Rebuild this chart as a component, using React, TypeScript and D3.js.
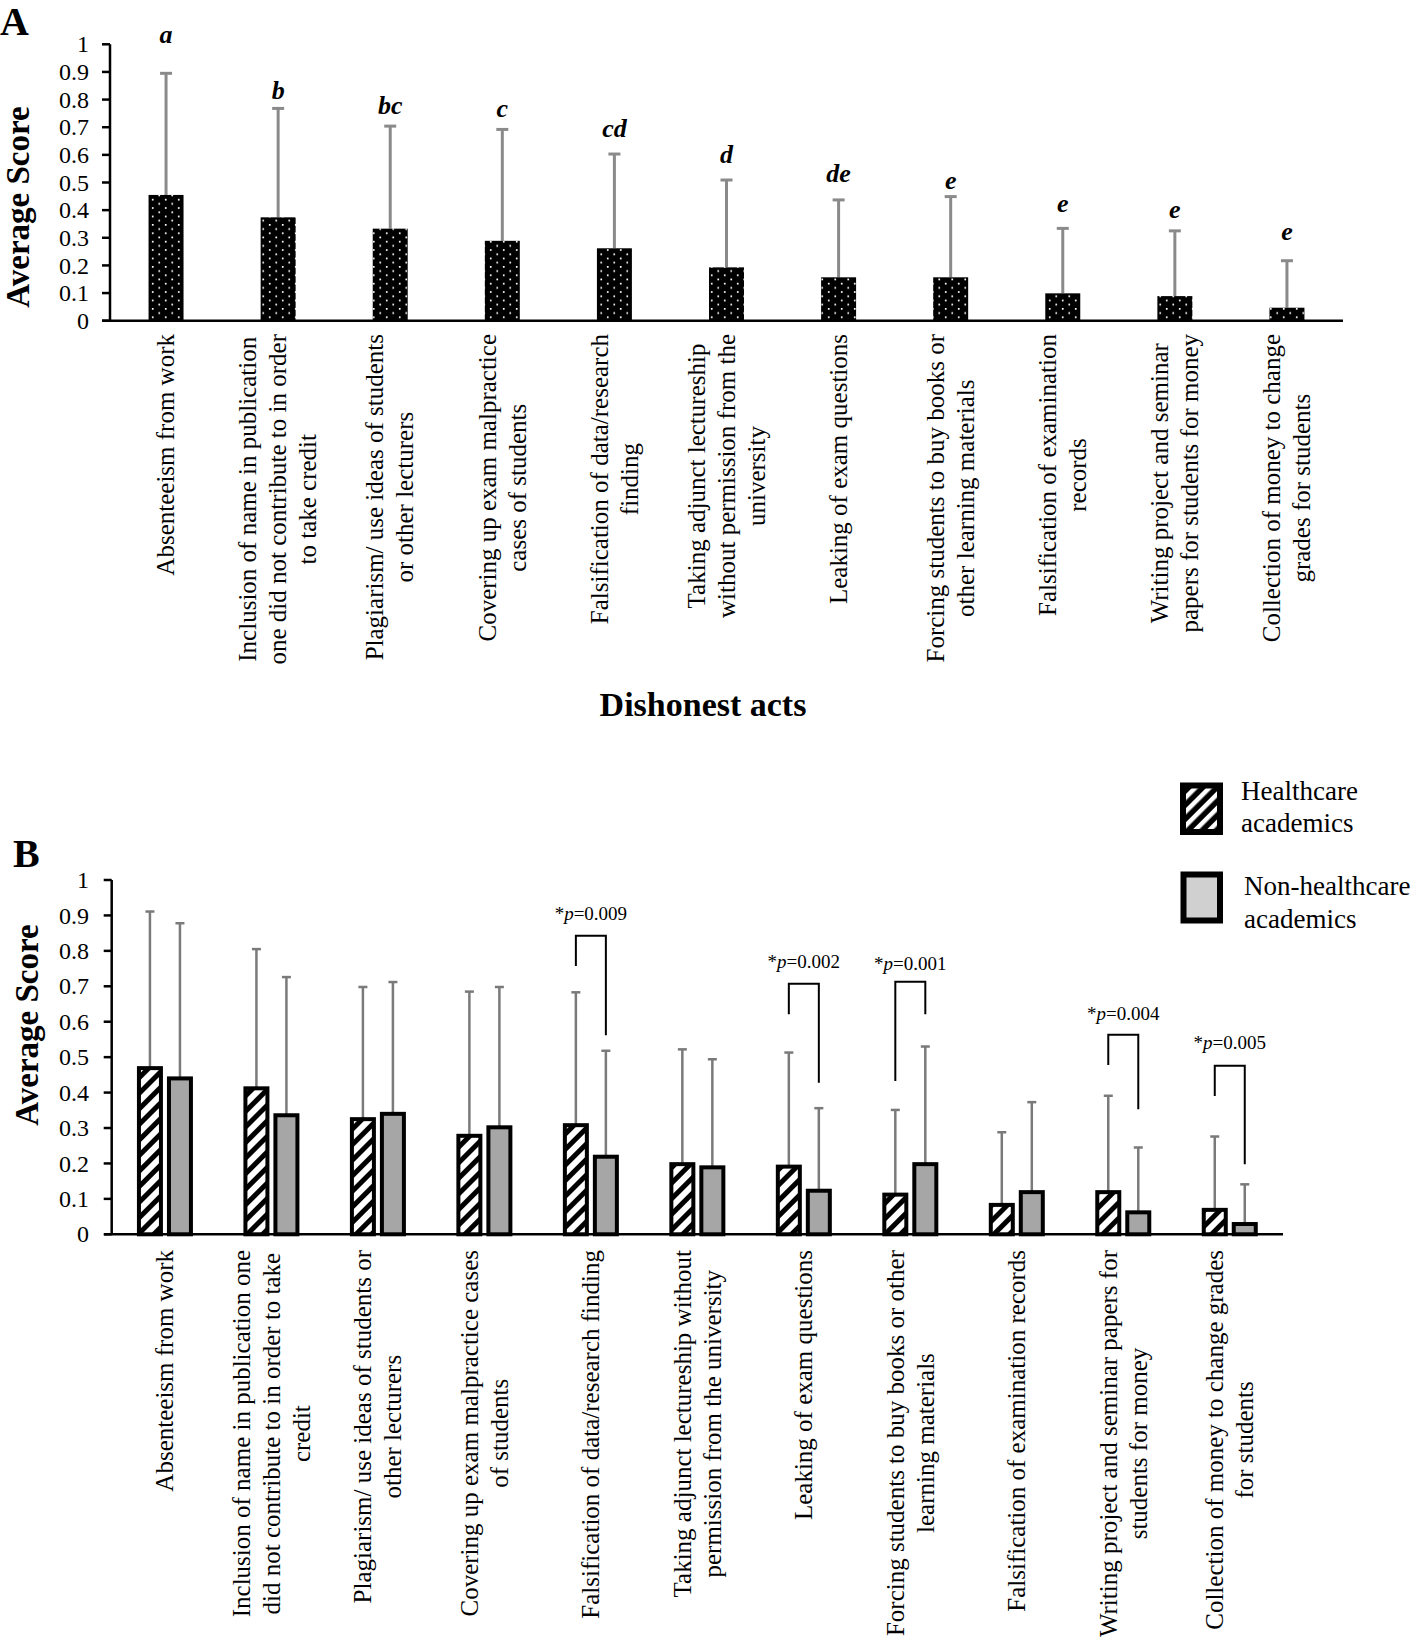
import React, { useEffect, useRef } from 'react';
import * as d3 from 'd3';

const W = 1417;
const H = 1646;
const FONT = '"Liberation Serif", "Times New Roman", Times, serif';

// ---------- Panel A data ----------
const labelsA: string[][] = [
  ['Absenteeism from work'],
  ['Inclusion of name in publication', 'one did not contribute to in order', 'to take credit'],
  ['Plagiarism/ use ideas of students', 'or other lecturers'],
  ['Covering up exam malpractice', 'cases of students'],
  ['Falsification of data/research', 'finding'],
  ['Taking adjunct lectureship', 'without permission from the', 'university'],
  ['Leaking of exam questions'],
  ['Forcing students to buy books or', 'other learning materials'],
  ['Falsification of examination', 'records'],
  ['Writing project and seminar', 'papers for students for money'],
  ['Collection of money to change', 'grades for students'],
];
const meanA = [0.455, 0.374, 0.333, 0.289, 0.262, 0.193, 0.157, 0.157, 0.099, 0.089, 0.047];
const errTopA = [0.895, 0.768, 0.704, 0.692, 0.603, 0.509, 0.437, 0.449, 0.334, 0.325, 0.217];
const lettersA = ['a', 'b', 'bc', 'c', 'cd', 'd', 'de', 'e', 'e', 'e', 'e'];
const letterLevelA = [1.005, 0.802, 0.748, 0.738, 0.666, 0.569, 0.503, 0.475, 0.394, 0.37, 0.292];

// ---------- Panel B data ----------
const labelsB: string[][] = [
  ['Absenteeism from work'],
  ['Inclusion of name in publication one', 'did not contribute to in order to take', 'credit'],
  ['Plagiarism/ use ideas of students or', 'other lecturers'],
  ['Covering up exam malpractice cases', 'of students'],
  ['Falsification of data/research finding'],
  ['Taking adjunct lectureship without', 'permission from the university'],
  ['Leaking of exam questions'],
  ['Forcing students to buy books or other', 'learning materials'],
  ['Falsification of examination records'],
  ['Writing project and seminar papers for', 'students for money'],
  ['Collection of money to change grades', 'for students'],
];
const seriesB = ['Healthcare academics', 'Non-healthcare academics'];
const healthMeanB = [0.469, 0.412, 0.325, 0.278, 0.308, 0.198, 0.191, 0.112, 0.083, 0.119, 0.069];
const healthErrB = [0.911, 0.805, 0.698, 0.685, 0.683, 0.522, 0.513, 0.351, 0.288, 0.391, 0.276];
const nonHealthMeanB = [0.44, 0.336, 0.34, 0.302, 0.219, 0.189, 0.123, 0.198, 0.119, 0.062, 0.029];
const nonHealthErrB = [0.878, 0.726, 0.712, 0.698, 0.518, 0.494, 0.356, 0.53, 0.373, 0.245, 0.141];

const sigIndexB = [4, 6, 7, 9, 10];
const sigPB = ['0.009', '0.002', '0.001', '0.004', '0.005'];
const sigTextLevelB = [0.888, 0.751, 0.746, 0.605, 0.522];
const sigTopLevelB = [0.843, 0.707, 0.713, 0.563, 0.476];
const sigLeftLevelB = [0.757, 0.621, 0.433, 0.478, 0.39];
const sigRightLevelB = [0.562, 0.428, 0.621, 0.353, 0.198];

const legendLinesB: string[][] = [
  ['Healthcare', 'academics'],
  ['Non-healthcare', 'academics'],
];

const tickLabels = ['0', '0.1', '0.2', '0.3', '0.4', '0.5', '0.6', '0.7', '0.8', '0.9', '1'];
const tickValues = tickLabels.map(Number);

export default function App() {
  const ref = useRef<SVGSVGElement | null>(null);

  useEffect(() => {
    const svg = d3.select(ref.current);
    svg.selectAll('*').remove();
    svg.attr('font-family', FONT);

    const defs = svg.append('defs');
    // dotted pattern for panel A
    const dots = defs.append('pattern').attr('id', 'dots').attr('patternUnits', 'userSpaceOnUse')
      .attr('width', 13).attr('height', 8.4);
    dots.append('rect').attr('width', 13).attr('height', 8.4).attr('fill', '#000');
    dots.append('rect').attr('x', 2.4).attr('y', 1.4).attr('width', 1.7).attr('height', 1.7).attr('fill', '#fff');
    dots.append('rect').attr('x', 8.9).attr('y', 5.6).attr('width', 1.7).attr('height', 1.7).attr('fill', '#fff');
    // hatch pattern for bars
    const hatch = defs.append('pattern').attr('id', 'hatch').attr('patternUnits', 'userSpaceOnUse')
      .attr('width', 11).attr('height', 11).attr('patternTransform', 'rotate(45)');
    hatch.append('rect').attr('width', 11).attr('height', 11).attr('fill', '#fff');
    hatch.append('rect').attr('width', 5).attr('height', 11).attr('fill', '#000');
    // hatch pattern for legend (white stripes on black)
    const hatchL = defs.append('pattern').attr('id', 'hatchL').attr('patternUnits', 'userSpaceOnUse')
      .attr('width', 10).attr('height', 10).attr('patternTransform', 'rotate(45)');
    hatchL.append('rect').attr('width', 10).attr('height', 10).attr('fill', '#000');
    hatchL.append('rect').attr('width', 4.5).attr('height', 10).attr('fill', '#fff');

    const drawCategoryLabels = (labels: string[][], centers: number[], top: number) => {
      const g = svg.append('g').attr('font-size', 25).attr('fill', '#000');
      const lh = 30;
      labels.forEach((lines, i) => {
        const texts = lines.map((ln) =>
          g.append('text').attr('text-anchor', 'middle').attr('dy', '0.33em').text(ln)
        );
        const maxLen = d3.max(texts, (t) => (t.node() as SVGTextElement).getComputedTextLength()) || 0;
        texts.forEach((t, j) => {
          const x = centers[i] + (j - (lines.length - 1) / 2) * lh;
          t.attr('transform', `translate(${x},${top + maxLen / 2}) rotate(-90)`);
        });
      });
    };

    const drawYAxis = (y: d3.ScaleLinear<number, number>, x0: number, tickLen: number, xLabelRight: number) => {
      const g = svg.append('g');
      g.append('line').attr('x1', x0).attr('x2', x0).attr('y1', y(1)).attr('y2', y(0))
        .attr('stroke', '#000').attr('stroke-width', 2.5);
      tickValues.forEach((v, i) => {
        g.append('line').attr('x1', x0 - tickLen).attr('x2', x0).attr('y1', y(v)).attr('y2', y(v))
          .attr('stroke', '#000').attr('stroke-width', 2.5);
        g.append('text').attr('x', xLabelRight).attr('y', y(v)).attr('dy', '0.34em')
          .attr('text-anchor', 'end').attr('font-size', 24).text(tickLabels[i]);
      });
    };

    // ================= Panel A =================
    const idx = d3.range(labelsA.length);
    const xA = d3.scaleBand<number>().domain(idx).range([110, 1343]).paddingInner(0.688).paddingOuter(0.344);
    const yA = d3.scaleLinear().domain([0, 1]).range([320.7, 44.3]);

    svg.append('text').attr('x', 0).attr('y', 35).attr('font-size', 40).attr('font-weight', 'bold').text('A');
    svg.append('text').attr('transform', 'translate(29,207) rotate(-90)').attr('text-anchor', 'middle')
      .attr('font-size', 33).attr('font-weight', 'bold').text('Average Score');

    const gA = svg.append('g');
    idx.forEach((i) => {
      const cx = (xA(i) as number) + xA.bandwidth() / 2;
      gA.append('line').attr('x1', cx).attr('x2', cx).attr('y1', yA(meanA[i])).attr('y2', yA(errTopA[i]))
        .attr('stroke', '#8a8a8a').attr('stroke-width', 3);
      gA.append('line').attr('x1', cx - 6).attr('x2', cx + 6).attr('y1', yA(errTopA[i])).attr('y2', yA(errTopA[i]))
        .attr('stroke', '#8a8a8a').attr('stroke-width', 3);
      gA.append('rect').attr('x', xA(i) as number).attr('width', xA.bandwidth())
        .attr('y', yA(meanA[i])).attr('height', yA(0) - yA(meanA[i])).attr('fill', 'url(#dots)');
      gA.append('text').attr('x', cx).attr('y', yA(letterLevelA[i])).attr('text-anchor', 'middle')
        .attr('font-size', 26).attr('font-weight', 'bold').attr('font-style', 'italic').text(lettersA[i]);
    });
    drawYAxis(yA, 110, 8, 89);
    svg.append('line').attr('x1', 102).attr('x2', 1343).attr('y1', yA(0)).attr('y2', yA(0))
      .attr('stroke', '#000').attr('stroke-width', 2.5);
    drawCategoryLabels(labelsA, idx.map((i) => (xA(i) as number) + xA.bandwidth() / 2), 334);
    svg.append('text').attr('x', 703).attr('y', 716).attr('text-anchor', 'middle')
      .attr('font-size', 34).attr('font-weight', 'bold').text('Dishonest acts');

    // ================= Panel B =================
    const xB = d3.scaleBand<number>().domain(idx).range([111.7, 1283]).padding(0);
    const sub = d3.scaleBand<string>().domain(seriesB).range([-28, 28]).paddingInner(0.1334);
    const yB = d3.scaleLinear().domain([0, 1]).range([1234.3, 880]);
    const centerB = (i: number) => (xB(i) as number) + xB.bandwidth() / 2;
    const barCenter = (i: number, s: string) => centerB(i) + (sub(s) as number) + sub.bandwidth() / 2;

    svg.append('text').attr('x', 13).attr('y', 867).attr('font-size', 40).attr('font-weight', 'bold').text('B');
    svg.append('text').attr('transform', 'translate(38,1025) rotate(-90)').attr('text-anchor', 'middle')
      .attr('font-size', 33).attr('font-weight', 'bold').text('Average Score');

    const gB = svg.append('g');
    const seriesData = [
      { key: seriesB[0], mean: healthMeanB, err: healthErrB, fill: 'url(#hatch)' },
      { key: seriesB[1], mean: nonHealthMeanB, err: nonHealthErrB, fill: '#a6a6a6' },
    ];
    seriesData.forEach((s) => {
      idx.forEach((i) => {
        const cx = barCenter(i, s.key);
        gB.append('line').attr('x1', cx).attr('x2', cx).attr('y1', yB(s.mean[i])).attr('y2', yB(s.err[i]))
          .attr('stroke', '#7a7a7a').attr('stroke-width', 2.5);
        gB.append('line').attr('x1', cx - 4.5).attr('x2', cx + 4.5).attr('y1', yB(s.err[i])).attr('y2', yB(s.err[i]))
          .attr('stroke', '#7a7a7a').attr('stroke-width', 2.5);
      });
    });
    seriesData.forEach((s) => {
      idx.forEach((i) => {
        const x0 = centerB(i) + (sub(s.key) as number);
        gB.append('rect').attr('x', x0 + 2).attr('width', sub.bandwidth() - 4)
          .attr('y', yB(s.mean[i])).attr('height', yB(0) - yB(s.mean[i]))
          .attr('fill', s.fill).attr('stroke', '#000').attr('stroke-width', 4);
      });
    });
    drawYAxis(yB, 111.7, 8, 89);
    svg.append('line').attr('x1', 104).attr('x2', 1283).attr('y1', yB(0)).attr('y2', yB(0))
      .attr('stroke', '#000').attr('stroke-width', 2.5);

    // significance brackets
    sigIndexB.forEach((gi, k) => {
      const xl = barCenter(gi, seriesB[0]);
      const xr = barCenter(gi, seriesB[1]);
      gB.append('path')
        .attr('d', `M${xl},${yB(sigLeftLevelB[k])}V${yB(sigTopLevelB[k])}H${xr}V${yB(sigRightLevelB[k])}`)
        .attr('fill', 'none').attr('stroke', '#000').attr('stroke-width', 2);
      const t = gB.append('text').attr('x', (xl + xr) / 2).attr('y', yB(sigTextLevelB[k]))
        .attr('text-anchor', 'middle').attr('font-size', 19);
      t.append('tspan').text('*');
      t.append('tspan').attr('font-style', 'italic').text('p');
      t.append('tspan').text('=' + sigPB[k]);
    });

    drawCategoryLabels(labelsB, idx.map(centerB), 1250);

    // legend
    const gL = svg.append('g');
    gL.append('rect').attr('x', 1183).attr('y', 785.5).attr('width', 37).attr('height', 46.5)
      .attr('fill', 'url(#hatchL)').attr('stroke', '#000').attr('stroke-width', 6);
    gL.append('rect').attr('x', 1183.5).attr('y', 874.5).attr('width', 36.5).attr('height', 46)
      .attr('fill', '#d0d0d0').attr('stroke', '#000').attr('stroke-width', 6);
    const legendPos = [
      { x: 1241, y: [800, 832] },
      { x: 1244, y: [895, 928] },
    ];
    legendLinesB.forEach((lines, k) => {
      lines.forEach((ln, j) => {
        gL.append('text').attr('x', legendPos[k].x).attr('y', legendPos[k].y[j]).attr('font-size', 27).text(ln);
      });
    });
  }, []);

  return (
    <svg
      ref={ref}
      width={W}
      height={H}
      style={{ position: 'absolute', left: 0, top: 0, background: '#fff' }}
    />
  );
}
